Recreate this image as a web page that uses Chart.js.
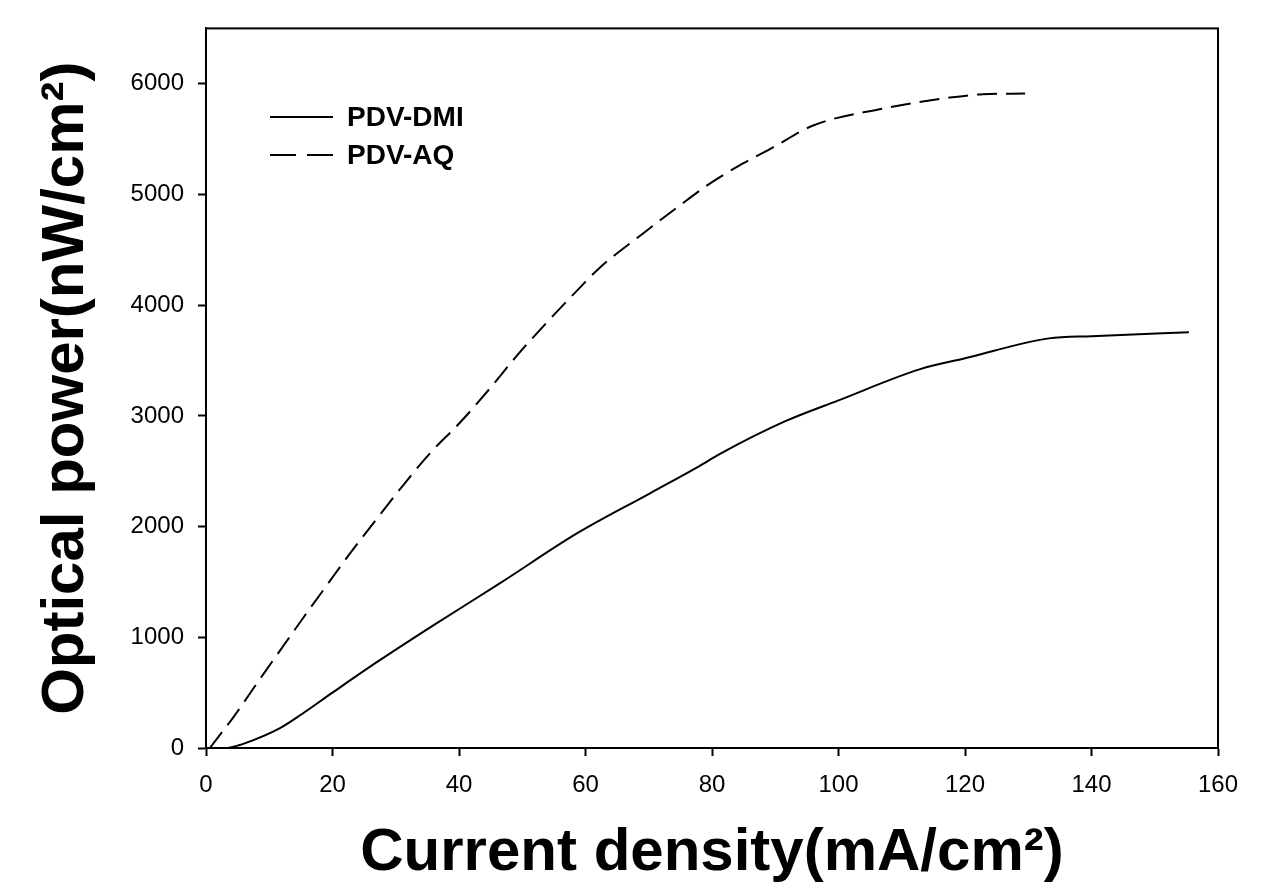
<!DOCTYPE html>
<html>
<head>
<meta charset="utf-8">
<script src="https://cdn.jsdelivr.net/npm/chart.js@4.4.1/dist/chart.umd.min.js"></script>
<style>
  html, body { margin: 0; padding: 0; background: #fff; }
  #wrap { width: 1261px; height: 896px; }
</style>
</head>
<body>
<div id="wrap"><canvas id="power" width="1261" height="896"></canvas></div>
<script>
// PDV-DMI (solid)
const dmi_x = [3.5, 6, 11.7, 15, 20, 27, 36, 46.5, 58.7, 70.2, 78, 81.2, 91.6, 100, 112.8, 120, 133.3, 140, 155.4];
const dmi_y = [0, 40, 180, 300, 500, 775, 1110, 1489, 1940, 2301, 2547, 2655, 2952, 3140, 3420, 3520, 3700, 3720, 3755];

// PDV-AQ (dashed)
const aq_x = [0.6, 4.6, 8, 11.7, 15.3, 19.1, 22.8, 27, 30.7, 35.4, 40.2, 44.9, 49.2, 53.9, 58.7, 62.3, 69.1, 74.5, 79.7, 84.9, 89.6, 96, 107, 117.6, 122.8, 129.5];
const aq_y = [0, 300, 580, 880, 1170, 1470, 1760, 2070, 2340, 2662, 2942, 3249, 3547, 3845, 4134, 4341, 4648, 4883, 5100, 5280, 5424, 5623, 5776, 5875, 5905, 5911];

const x_ticks = [0, 20, 40, 60, 80, 100, 120, 140, 160];
const y_ticks = [0, 1000, 2000, 3000, 4000, 5000, 6000];

function toPoints(xs, ys) {
  return xs.map((x, i) => ({ x: x, y: ys[i] }));
}

// box round the plot area
const frame = {
  id: "frame",
  afterDraw(chart) {
    const { ctx, chartArea: a } = chart;
    ctx.save();
    ctx.strokeStyle = "#000";
    ctx.lineWidth = 2;
    ctx.strokeRect(a.left, a.top, a.right - a.left, a.bottom - a.top);
    ctx.restore();
  },
};

// legend inside the plot, top left
const innerLegend = {
  id: "innerLegend",
  afterDraw(chart) {
    const ctx = chart.ctx;
    const rows = [117, 155];
    ctx.save();
    ctx.font = "bold 28px 'Liberation Sans', Arial, sans-serif";
    ctx.fillStyle = "#000";
    ctx.textBaseline = "middle";
    chart.data.datasets.forEach((ds, i) => {
      const y = rows[i];
      ctx.strokeStyle = "#000";
      ctx.lineWidth = 2;
      ctx.setLineDash(ds.borderDash ? [26, 11] : []);
      ctx.beginPath();
      ctx.moveTo(270, y);
      ctx.lineTo(333, y);
      ctx.stroke();
      ctx.setLineDash([]);
      ctx.fillText(ds.label, 347, y + 1);
    });
    ctx.restore();
  },
};

const tickFont = { family: "'Liberation Sans', Arial, sans-serif", size: 24 };
const titleFont = { family: "'Liberation Sans', Arial, sans-serif", size: 60, weight: "bold" };

const config = {
  type: "line",
  data: {
    datasets: [
      {
        label: "PDV-DMI",
        data: toPoints(dmi_x, dmi_y),
        borderColor: "#000",
        borderWidth: 2,
        pointRadius: 0,
        cubicInterpolationMode: "monotone",
      },
      {
        label: "PDV-AQ",
        data: toPoints(aq_x, aq_y),
        borderColor: "#000",
        borderWidth: 2,
        borderDash: [20, 9],
        pointRadius: 0,
        cubicInterpolationMode: "monotone",
      },
    ],
  },
  options: {
    responsive: false,
    animation: false,
    layout: { padding: { top: 28, right: 43, left: 0, bottom: 0 } },
    plugins: {
      legend: { display: false },
      tooltip: { enabled: false },
    },
    scales: {
      x: {
        type: "linear",
        min: 0,
        max: 160,
        afterBuildTicks: (s) => { s.ticks = x_ticks.map((v) => ({ value: v })); },
        afterFit: (s) => { s.height = 148; },
        grid: { drawOnChartArea: false, color: "#000", tickLength: 8, tickWidth: 2 },
        border: { color: "#000", width: 2 },
        ticks: { color: "#000", font: tickFont, padding: 15, maxRotation: 0, callback: (v) => String(v) },
        title: {
          display: true,
          text: "Current density(mA/cm²)",
          color: "#000",
          font: titleFont,
          padding: { top: 0, bottom: 7 },
        },
      },
      y: {
        type: "linear",
        min: 0,
        max: 6500,
        afterBuildTicks: (s) => { s.ticks = y_ticks.map((v) => ({ value: v })); },
        afterFit: (s) => { s.width = 206; },
        grid: { drawOnChartArea: false, color: "#000", tickLength: 8, tickWidth: 2 },
        border: { color: "#000", width: 2 },
        ticks: { color: "#000", font: tickFont, padding: 14, callback: (v) => String(v) },
        title: {
          display: true,
          text: "Optical power(nW/cm²)",
          color: "#000",
          font: titleFont,
          padding: { top: 30, bottom: 0 },
        },
      },
    },
  },
  plugins: [frame, innerLegend],
};

new Chart(document.getElementById("power"), config);
</script>
</body>
</html>
